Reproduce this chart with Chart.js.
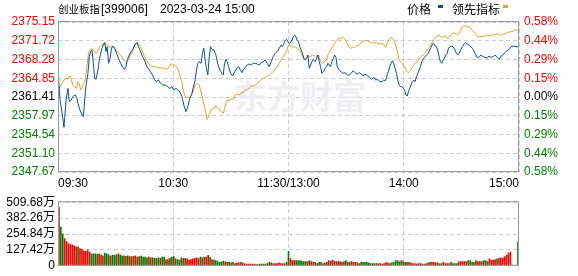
<!DOCTYPE html>
<html lang="zh-CN">
<head>
<meta charset="UTF-8">
<title>创业板指[399006] 分时</title>
<script src="https://cdn.jsdelivr.net/npm/chart.js"></script>
<style>
  html, body { margin: 0; padding: 0; background: #fff; }
  body {
    width: 578px; height: 276px; position: relative; overflow: hidden;
    font-family: 'Liberation Sans', 'Noto Sans CJK SC', sans-serif; color: #000;
  }
  canvas { position: absolute; left: 0; }
  #main { top: 0; }
  #vol { top: 192px; }
  .lbl { position: absolute; top: 2px; font-size: 12px; line-height: 14px; white-space: nowrap; }
  .cn { font-family: 'Noto Sans CJK SC', sans-serif; }
  .sq { position: absolute; top: 5px; width: 5px; height: 3px; }
</style>
</head>
<body>
  <canvas id="main" width="578" height="192"></canvas>
  <canvas id="vol" width="578" height="84"></canvas>

  <span class="lbl cn" style="left:58px;font-size:10.5px;">创业板指</span>
  <span class="lbl" style="left:101px;">[399006]</span>
  <span class="lbl" style="left:160px;">2023-03-24 15:00</span>

  <span class="lbl cn" style="left:407px;">价格</span>
  <span class="sq" style="left:438px;background:#0a4fa3;"></span>
  <span class="lbl cn" style="left:452px;">领先指标</span>
  <span class="sq" style="left:503px;background:#e3a51e;"></span>

  <script>
    // 价格 (blue): [minute since 09:30, price]
    const pricePoints = [
      [0,2366.48],[1,2361.16],[2.4,2357.80],[3.1,2355.85],[4.2,2360.86],[5.2,2362.99],[5.9,2360.55],[6.9,2360.86],[7.6,2361.47],[9,2361.77],
      [9.7,2361.34],[10.4,2360.24],[11.4,2359.02],[12.5,2358.11],[13.2,2357.80],[13.9,2360.86],[14.6,2363.61],[15.6,2365.74],[16.3,2368.80],[17,2369.72],
      [17.7,2370.02],[18.4,2367.58],[19.1,2364.83],[19.8,2364.64],[20.8,2366.35],[21.5,2368.19],[22.2,2369.41],[22.9,2370.33],[23.6,2370.94],[24.3,2371.37],
      [25,2369.72],[25.6,2370.63],[26.3,2367.58],[27,2368.19],[27.7,2370.02],[28.4,2370.75],[29.5,2370.33],[30.5,2369.41],[31.5,2368.49],[32.6,2367.58],
      [33.6,2366.84],[34.7,2366.48],[35.4,2366.97],[36,2368.19],[37.1,2369.10],[38.1,2369.72],[39.2,2370.33],[40.2,2371.12],[41.2,2371.37],[41.9,2370.63],
      [43,2369.72],[44,2368.80],[45,2368.19],[46.1,2367.09],[47.5,2366.35],[48.9,2365.62],[50.3,2364.64],[51.3,2364.22],[52.3,2364.52],[53.4,2363.91],
      [54.4,2363.61],[55.8,2363.61],[57.2,2363.30],[58.2,2362.99],[59.3,2363.30],[60.3,2362.69],[61.4,2362.99],[62.4,2362.69],[63.4,2362.38],[64.5,2361.47],
      [65.5,2359.94],[66.6,2358.72],[67.6,2359.63],[68.6,2361.16],[69.7,2362.08],[70.7,2363.61],[71.4,2364.52],[72.1,2366.35],[72.8,2367.58],[73.5,2367.88],
      [74.5,2367.58],[75.2,2369.41],[75.9,2370.33],[76.6,2368.19],[77.3,2366.66],[78,2365.44],[78.7,2368.49],[79.4,2370.63],[80.4,2370.02],[81.2,2370.02],
      [82.2,2369.10],[83.3,2367.27],[84.3,2366.35],[85.3,2365.74],[86,2365.44],[86.7,2367.58],[87.4,2368.31],[88.1,2367.88],[88.8,2366.97],[89.9,2365.74],
      [90.9,2365.26],[92,2366.05],[93,2366.66],[94,2366.97],[95,2366.35],[95.7,2365.87],[96.4,2366.35],[97.5,2366.84],[98.5,2367.27],[99.6,2367.45],
      [100.6,2367.27],[101.6,2367.58],[102.7,2367.58],[103.7,2367.45],[104.8,2367.27],[105.8,2367.70],[106.9,2367.88],[107.9,2368.19],[108.9,2367.58],[110,2366.97],
      [111,2367.88],[112,2368.80],[113.1,2369.41],[114.1,2369.72],[115.2,2370.33],[116.2,2370.94],[116.9,2370.63],[117.6,2371.24],[118.3,2371.73],[119,2371.98],
      [119.7,2371.55],[120.4,2371.24],[121.1,2371.37],[121.8,2371.85],[122.5,2372.46],[123.2,2372.77],[123.8,2372.46],[124.5,2371.85],[125.2,2371.55],[125.9,2370.63],
      [126.6,2370.02],[127.3,2369.41],[128,2368.49],[128.7,2368.19],[129.4,2368.49],[130.1,2369.10],[130.8,2366.66],[131.5,2367.27],[132.2,2367.88],[132.9,2368.31],
      [133.9,2367.88],[134.6,2368.49],[135.3,2369.10],[136,2367.88],[136.7,2366.97],[137.4,2365.74],[138.1,2366.05],[139.1,2366.66],[139.8,2366.97],[140.5,2367.58],
      [141.2,2367.27],[141.9,2366.97],[142.6,2367.88],[143.3,2368.49],[144,2369.10],[144.7,2368.68],[145.4,2366.97],[146.4,2366.35],[147.4,2366.05],[148.5,2365.74],
      [149.5,2365.87],[150.6,2365.44],[151.6,2365.44],[152.6,2365.74],[153.7,2366.23],[154.7,2365.87],[155.8,2365.62],[156.8,2365.87],[157.8,2365.62],[158.9,2365.26],
      [159.9,2365.62],[161.3,2365.26],[162.3,2365.01],[163.4,2364.64],[164.4,2365.01],[165.4,2364.52],[166.5,2364.64],[167.5,2364.22],[168.6,2364.22],[169.6,2364.52],
      [170.6,2364.40],[171.3,2365.44],[172,2366.05],[172.7,2366.97],[173.4,2367.58],[174.1,2368.07],[174.8,2367.58],[175.5,2366.66],[176.2,2365.74],[176.9,2364.52],
      [177.6,2363.61],[178.3,2363.30],[179,2363.30],[179.7,2362.99],[180.4,2362.69],[181.1,2361.77],[181.8,2361.59],[182.4,2362.38],[183.1,2362.99],[183.8,2363.61],
      [184.5,2364.22],[185.2,2364.52],[185.9,2364.22],[186.6,2365.13],[187.3,2365.74],[188,2366.35],[188.7,2366.97],[189.4,2367.88],[190.1,2368.31],[190.8,2368.68],
      [191.8,2369.10],[192.8,2369.41],[193.5,2370.02],[194.2,2370.51],[194.9,2371.12],[195.6,2371.24],[196.3,2370.75],[197,2370.63],[197.7,2370.02],[198.4,2368.80],
      [199.1,2367.88],[199.8,2367.58],[200.5,2368.19],[201.2,2368.49],[201.9,2369.10],[202.6,2369.41],[203.3,2370.33],[204,2370.63],[204.6,2370.75],[205.7,2370.63],
      [206.7,2370.02],[207.4,2369.41],[208.1,2369.10],[208.8,2369.41],[209.5,2369.90],[210.5,2370.63],[211.6,2371.24],[212.3,2371.37],[213,2371.12],[214,2370.94],
      [215,2370.63],[216.1,2370.14],[217.1,2369.41],[218.2,2368.68],[219.2,2368.68],[220.2,2369.10],[221.3,2368.80],[222.3,2368.68],[223.4,2368.49],[224.4,2368.92],
      [225.4,2368.68],[226.5,2368.80],[227.5,2369.10],[228.6,2368.68],[229.6,2368.31],[230.7,2368.92],[231.7,2369.10],[232.7,2369.53],[233.8,2369.90],[234.8,2370.14],
      [235.9,2370.63],[236.9,2370.75],[237.9,2370.63],[239,2370.63],[240,2370.51]
    ];

    // 领先指标 (orange): [minute since 09:30, value]
    const leadPoints = [
      [0,2362.38],[1,2363.30],[2.1,2363.91],[3.1,2364.52],[4.2,2364.83],[5.2,2364.64],[5.9,2365.26],[6.6,2365.13],[7.6,2363.61],[8.7,2363.30],
      [9.7,2362.99],[10.4,2364.22],[11.1,2363.91],[11.8,2362.69],[12.5,2362.99],[13.2,2363.91],[13.9,2364.22],[14.6,2365.74],[15.3,2367.58],[15.9,2369.41],
      [16.6,2370.02],[17.3,2370.33],[18,2370.02],[19.1,2369.72],[19.8,2369.41],[20.5,2369.72],[21.1,2370.02],[21.8,2370.63],[22.9,2370.94],[23.9,2371.24],
      [24.6,2371.37],[25.3,2370.94],[26.3,2370.63],[27.3,2370.51],[28.4,2370.75],[29.5,2370.33],[30.5,2369.90],[31.5,2369.41],[32.6,2369.10],[33.6,2368.49],
      [34.7,2367.88],[35.7,2367.70],[36.7,2368.31],[37.8,2369.10],[38.8,2369.72],[39.8,2370.75],[40.9,2371.37],[41.9,2371.24],[43,2370.63],[44,2369.72],
      [45,2368.80],[46.1,2368.19],[47.1,2367.58],[48.2,2367.09],[49.2,2366.97],[50.6,2366.97],[52,2366.84],[53.4,2366.66],[54.4,2366.78],[55.5,2366.60],
      [56.5,2366.48],[57.5,2366.66],[58.6,2367.39],[59.6,2367.45],[60.6,2367.27],[61.7,2366.97],[62.7,2366.35],[63.4,2365.44],[64.5,2364.22],[65.2,2362.69],
      [65.9,2361.77],[66.6,2361.34],[67.6,2361.34],[68.6,2361.34],[69.7,2361.77],[70.7,2362.69],[71.4,2363.61],[72.1,2363.91],[72.8,2363.91],[73.5,2363.61],
      [74.2,2362.69],[74.9,2361.77],[75.6,2360.55],[76.3,2359.63],[77,2358.41],[77.6,2357.31],[78.3,2357.80],[79,2358.41],[79.7,2359.02],[80.7,2359.33],
      [81.7,2359.51],[82.2,2359.76],[83.3,2359.33],[84.3,2359.02],[85.3,2358.72],[86,2358.41],[86.7,2359.15],[87.4,2360.24],[88.1,2360.86],[89.1,2360.73],
      [90.2,2361.16],[91.2,2360.98],[92.3,2361.77],[93.3,2361.96],[94.4,2361.77],[95.4,2362.20],[96.4,2362.20],[97.5,2362.69],[98.5,2362.81],[99.6,2362.99],
      [100.6,2363.42],[101.6,2363.42],[102.7,2363.61],[103.7,2363.91],[104.8,2364.22],[105.8,2364.52],[106.9,2364.83],[107.9,2365.01],[108.9,2365.26],[110,2365.44],
      [111,2365.74],[112,2366.05],[113.1,2366.48],[114.1,2366.97],[115.2,2367.58],[116.2,2368.19],[117.3,2368.80],[118.3,2369.41],[119,2369.72],[119.7,2370.63],
      [120.4,2370.94],[121.4,2370.75],[122.5,2370.51],[123.5,2370.63],[124.5,2370.33],[125.2,2370.02],[125.9,2369.90],[126.6,2369.41],[127.3,2368.80],[128,2368.31],
      [128.7,2368.49],[129.4,2368.68],[130.4,2368.92],[131.5,2368.80],[132.5,2369.10],[133.5,2368.92],[134.6,2368.92],[135.6,2369.10],[136.7,2367.88],[137.7,2367.58],
      [138.8,2367.88],[139.8,2368.31],[140.8,2369.41],[141.9,2370.02],[142.9,2370.63],[144,2371.24],[145,2371.73],[146,2372.16],[147.1,2372.16],[148.1,2372.34],
      [149.2,2372.16],[150.2,2371.55],[151.2,2370.63],[152.3,2370.33],[153.3,2370.51],[154.4,2370.51],[155.4,2370.75],[156.5,2370.94],[157.5,2371.24],[158.5,2371.55],
      [159.6,2371.73],[161,2371.73],[162,2371.55],[163.4,2371.24],[164.4,2371.37],[165.4,2371.37],[166.5,2371.24],[167.5,2371.12],[168.6,2371.24],[169.6,2370.94],
      [170.6,2370.51],[171.3,2371.12],[172,2371.73],[172.7,2371.98],[173.4,2372.34],[174.1,2372.16],[174.8,2371.85],[175.5,2371.24],[176.2,2370.33],[176.9,2369.41],
      [177.6,2368.31],[178.3,2367.88],[179,2367.70],[179.7,2367.27],[180.4,2366.97],[181.1,2366.48],[181.8,2366.05],[182.4,2365.87],[183.1,2366.05],[183.8,2366.35],
      [184.5,2366.97],[185.2,2367.27],[185.9,2367.58],[186.6,2367.70],[187.3,2368.07],[188,2368.31],[188.7,2368.68],[189.4,2368.92],[190.1,2369.10],[190.8,2369.29],
      [191.5,2369.72],[192.2,2370.02],[192.8,2370.33],[193.5,2370.75],[194.2,2371.12],[194.9,2371.55],[195.6,2371.98],[196.3,2372.16],[197,2372.46],[197.7,2372.59],
      [198.4,2372.77],[199.1,2372.46],[200.1,2372.34],[201.2,2372.59],[202.2,2372.34],[203.3,2372.16],[204,2372.59],[205,2372.95],[206,2373.08],[207.1,2373.08],
      [208.1,2372.77],[209.1,2373.20],[210.2,2374.18],[211.2,2374.42],[212.3,2374.42],[213.3,2374.30],[214.4,2374.18],[215.4,2373.69],[216.4,2373.38],[217.5,2372.95],
      [218.5,2372.46],[219.6,2372.46],[220.6,2372.46],[221.6,2372.59],[222.7,2372.59],[223.7,2372.77],[224.8,2372.59],[225.8,2372.77],[226.8,2372.77],[227.9,2372.95],
      [228.9,2372.95],[230,2372.77],[231,2372.77],[232,2372.95],[233.1,2373.08],[234.1,2373.20],[235.2,2373.38],[236.2,2373.38],[237.2,2373.56],[238.3,2373.69],
      [239.3,2373.69],[240,2373.69]
    ];

    // 成交量 (万), one bar per minute, and whether the minute closed up (1) or down (0)
    const volumes = [
      468,310,257,218,195,177,172,168,161,152,
      152,138,131,119,115,126,110,96,96,96,
      92,96,87,80,101,96,87,78,83,83,
      87,96,87,80,80,76,80,73,73,76,
      80,69,73,78,69,69,64,69,64,64,
      60,60,64,60,69,69,50,50,60,69,
      73,55,50,46,64,60,60,55,46,50,
      55,60,64,57,69,64,69,69,83,69,
      50,46,41,34,28,32,37,32,28,28,
      23,28,18,23,23,28,23,16,14,14,
      14,14,14,9,9,14,14,14,14,18,
      28,23,18,18,18,23,18,18,18,28,
      115,57,41,41,41,41,41,37,34,34,
      34,41,34,28,28,18,28,28,18,23,
      28,41,37,46,37,34,34,34,28,34,
      41,28,28,34,28,28,23,18,28,28,
      28,28,23,18,18,18,18,18,18,14,
      18,25,23,18,23,28,41,41,34,41,
      34,28,28,28,23,18,18,14,18,18,
      14,14,18,23,28,28,28,23,23,18,
      18,28,18,18,18,28,18,18,18,32,
      34,34,34,34,41,41,28,28,41,34,
      34,34,41,41,34,55,46,46,50,55,
      62,62,62,73,83,101,110,5,0,0,
      193
    ];
    const volUp = [
      1,0,0,1,1,1,1,1,1,1,
      0,1,1,1,1,1,1,0,0,0,
      1,0,1,1,0,0,0,1,0,0,
      0,1,0,0,0,1,0,1,0,1,
      1,0,1,0,0,0,0,1,0,1,
      0,0,0,1,0,0,1,0,1,0,
      0,1,0,0,0,1,0,1,1,1,
      1,1,1,1,0,0,1,1,0,1,
      1,0,0,0,0,0,0,1,1,0,
      0,0,1,1,1,0,1,1,1,1,
      1,1,0,1,1,0,0,0,0,1,
      0,0,1,1,1,1,1,1,1,0,
      0,1,1,1,0,0,0,0,0,0,
      1,0,1,1,0,1,0,0,1,0,
      1,1,0,1,1,0,1,1,1,0,
      0,1,0,1,1,1,0,1,0,0,
      0,0,0,1,0,0,0,1,1,1,
      1,1,1,1,0,0,0,0,0,1,
      0,0,0,1,1,1,1,0,1,1,
      1,1,0,0,1,1,1,0,1,0,
      0,1,1,1,1,0,0,0,0,1,
      1,1,1,1,0,0,0,1,0,1,
      1,1,0,0,0,1,1,1,1,0,
      1,1,1,1,1,1,1,1,1,1,
      0
    ];

    const priceTicks = [2347.67, 2351.10, 2354.54, 2357.97, 2361.41, 2364.85, 2368.28, 2371.72, 2375.15];
    const pctLabels = ['0.58%', '0.44%', '0.29%', '0.15%', '0.00%', '0.15%', '0.29%', '0.44%', '0.58%'];
    const timeTicks = [0, 60, 120, 180, 240];
    const timeLabels = ['09:30', '10:30', '11:30/13:00', '14:00', '15:00'];
    const volTicks = [0, 127.42, 254.84, 382.26, 509.68];
    const volLabels = ['0', '127.42万', '254.84万', '382.26万', '509.68万'];

    const font = { family: "'Liberation Sans', 'Noto Sans CJK SC', sans-serif", size: 12 };
    const gridColor = '#cccccc';
    const dash = [4, 3];
    const RED = '#ff0000', GREEN = '#008000';

    // below the previous close in green, above in red
    const tickColor = c => c.index < 4 ? GREEN : (c.index === 4 ? '#000000' : RED);

    const framePlugin = {
      id: 'frame',
      afterDraw(chart) {
        const { ctx, chartArea: a } = chart;
        ctx.save();
        ctx.strokeStyle = '#9a9a9a';
        ctx.lineWidth = 1;
        ctx.strokeRect(a.left + 0.5, a.top - 0.5, a.width - 1, a.height);
        ctx.restore();
      }
    };

    const watermarkPlugin = {
      id: 'watermark',
      beforeDatasetsDraw(chart) {
        const ctx = chart.ctx;
        ctx.save();
        ctx.font = "bold 33px 'Noto Sans CJK SC'";
        ctx.fillStyle = '#efeff3';
        ctx.textBaseline = 'middle';
        ctx.fillText('东方财富', 234, 96);
        ctx.restore();
      }
    };

    new Chart(document.getElementById('main'), {
      type: 'line',
      data: {
        datasets: [
          {
            label: '价格',
            data: pricePoints.map(p => ({ x: p[0], y: p[1] })),
            borderColor: '#0a4fa3', borderWidth: 1, pointRadius: 0, tension: 0, yAxisID: 'y'
          },
          {
            label: '领先指标',
            data: leadPoints.map(p => ({ x: p[0], y: p[1] })),
            borderColor: '#e3a51e', borderWidth: 1, pointRadius: 0, tension: 0, yAxisID: 'y'
          }
        ]
      },
      options: {
        responsive: false,
        animation: false,
        events: [],
        layout: { padding: { top: 22, left: 0, right: 0, bottom: 0 } },
        plugins: { legend: { display: false }, tooltip: { enabled: false } },
        scales: {
          x: {
            type: 'linear', min: 0, max: 240,
            afterBuildTicks: s => { s.ticks = timeTicks.map(v => ({ value: v })); },
            afterFit: s => { s.height = 20; },
            ticks: {
              font, color: '#000', padding: 4, align: 'inner', maxRotation: 0, autoSkip: false,
              callback: (v, i) => timeLabels[i]
            },
            grid: { color: gridColor, drawTicks: false },
            border: { display: false, dash }
          },
          y: {
            position: 'left', min: priceTicks[0], max: priceTicks[8],
            afterBuildTicks: s => { s.ticks = priceTicks.map(v => ({ value: v })); },
            afterFit: s => { s.width = 58; },
            ticks: { font, color: tickColor, padding: 3, autoSkip: false, callback: v => v.toFixed(2) },
            grid: { color: gridColor, drawTicks: false },
            border: { display: false, dash }
          },
          y1: {
            position: 'right', min: priceTicks[0], max: priceTicks[8],
            afterBuildTicks: s => { s.ticks = priceTicks.map(v => ({ value: v })); },
            afterFit: s => { s.width = 59; },
            ticks: { font, color: tickColor, padding: 5, autoSkip: false, callback: (v, i) => pctLabels[i] },
            grid: { drawOnChartArea: false, drawTicks: false },
            border: { display: false }
          }
        }
      },
      plugins: [watermarkPlugin, framePlugin]
    });

    new Chart(document.getElementById('vol'), {
      type: 'bar',
      data: {
        labels: volumes.map((_, i) => i),
        datasets: [{
          label: '成交量',
          data: volumes,
          backgroundColor: volUp.map(u => u ? RED : GREEN),
          barThickness: 1,
          borderWidth: 0
        }]
      },
      options: {
        responsive: false,
        animation: false,
        events: [],
        layout: { padding: { top: 4, bottom: 6, left: 0, right: 59 } },
        plugins: { legend: { display: false }, tooltip: { enabled: false } },
        scales: {
          x: {
            type: 'linear', min: -0.5, max: 240.5, offset: false,
            afterBuildTicks: s => { s.ticks = timeTicks.slice(1, 4).map(v => ({ value: v })); },
            afterFit: s => { s.height = 0; },
            ticks: { display: false },
            grid: { color: gridColor, drawTicks: false, offset: false },
            border: { display: false, dash }
          },
          y: {
            min: 0, max: volTicks[4],
            afterBuildTicks: s => { s.ticks = volTicks.map(v => ({ value: v })); },
            afterFit: s => { s.width = 58; },
            ticks: { font, color: '#000', padding: 3, autoSkip: false, callback: (v, i) => volLabels[i] },
            grid: { color: gridColor, drawTicks: false },
            border: { display: false, dash }
          }
        }
      },
      plugins: [framePlugin]
    });
  </script>
</body>
</html>
